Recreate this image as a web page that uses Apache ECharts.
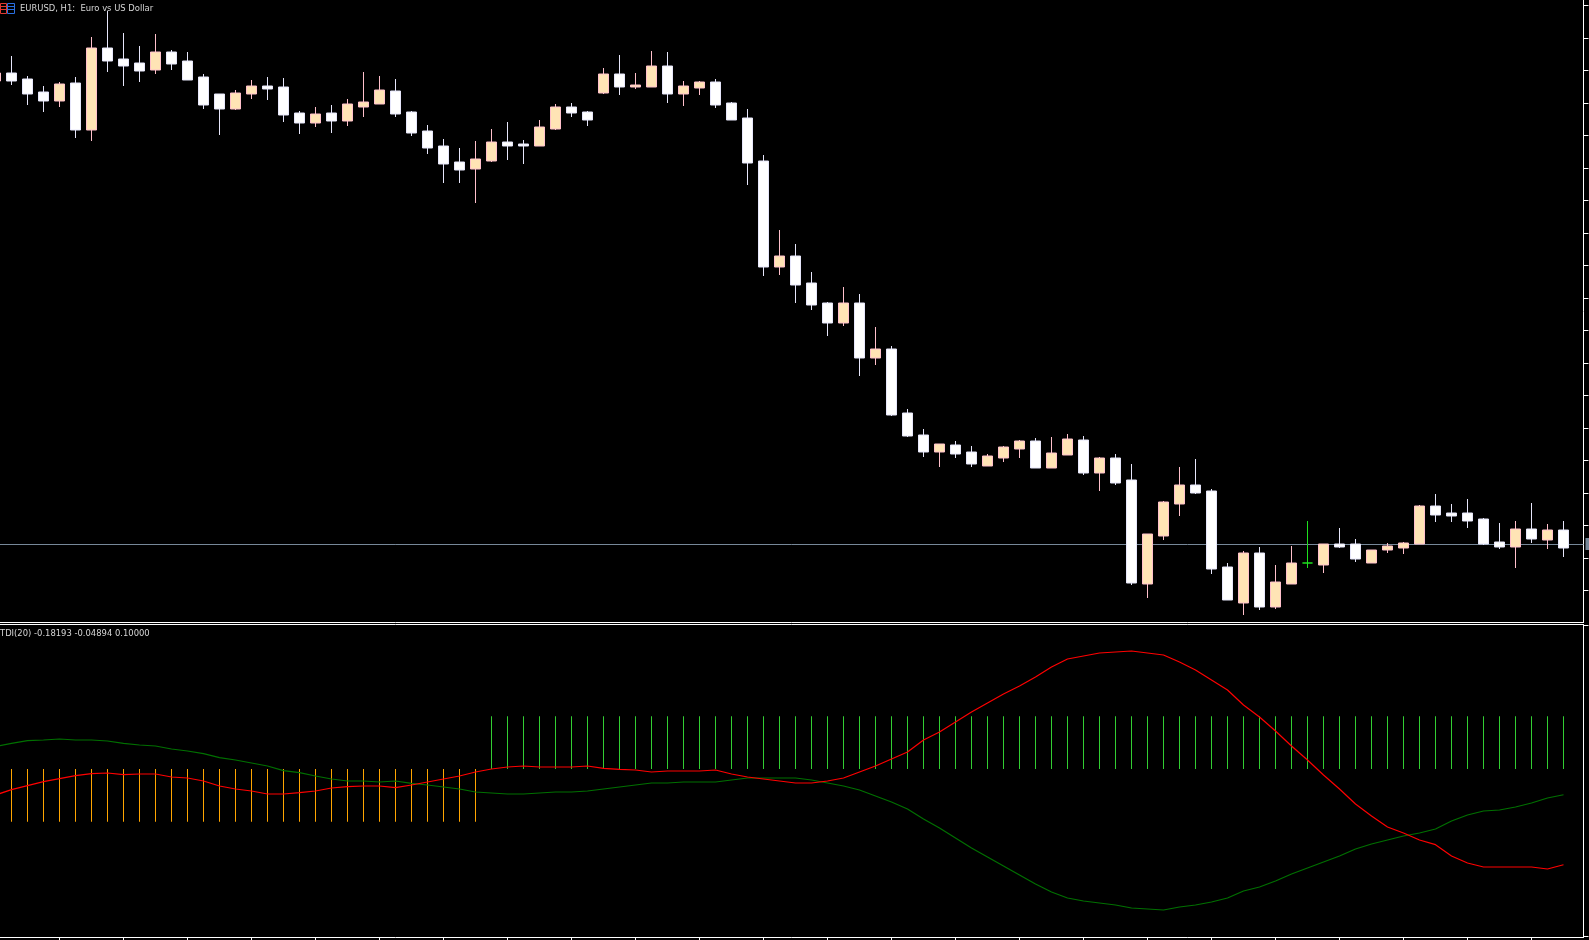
<!DOCTYPE html>
<html>
<head>
<meta charset="utf-8">
<style>html,body{margin:0;padding:0;background:#000;overflow:hidden}#c{width:1589px;height:940px}</style>
<script src="https://cdn.jsdelivr.net/npm/echarts@6/dist/echarts.min.js"></script>
</head>
<body>
<div id="c"></div>
<script>
// Prices are in points above 1.08000 (1 point = 0.00001).
var open = [919,927,921,908,899,917,870,952,941,937,930,948,939,923,906,891,906,914,913,887,877,887,879,893,896,909,888,869,854,838,831,839,858,856,854,871,893,888,907,926,913,913,934,906,912,918,897,882,839,733,744,717,697,677,697,642,651,587,565,548,555,548,534,542,551,559,532,545,560,527,542,520,416,464,496,515,509,433,397,447,393,416,437,435,456,456,437,450,452,456,494,487,487,481,458,453,471,460,470];
var close = [927,919,906,899,916,870,952,939,934,929,948,936,920,895,891,907,914,911,885,877,886,879,896,898,910,886,867,852,836,830,841,858,854,854,873,893,887,880,926,913,915,934,906,914,918,895,880,837,733,744,715,695,677,697,642,651,585,564,548,556,546,536,544,553,559,532,547,561,527,542,517,417,466,498,515,507,431,400,447,393,418,437,437,456,453,441,450,454,457,494,485,484,479,456,453,471,461,470,452];
var low = [915,915,895,888,893,862,859,928,914,918,926,930,920,891,865,890,901,900,878,866,873,867,874,883,896,883,864,846,817,817,797,838,840,836,854,870,883,874,906,905,911,913,897,894,905,892,880,815,724,725,697,690,664,674,624,635,584,563,543,533,542,533,534,538,542,532,532,545,525,509,515,415,402,460,484,506,426,400,385,390,391,416,432,427,452,438,437,447,446,456,478,478,472,455,451,432,457,451,443];
var high = [932,944,924,914,918,923,963,989,967,954,966,950,948,926,906,910,920,923,922,889,893,895,901,928,924,921,889,875,861,852,859,871,878,860,880,896,897,889,932,945,927,949,948,919,919,921,898,891,845,770,756,728,698,713,706,673,654,591,571,556,559,554,546,554,560,562,563,566,564,543,546,536,466,499,533,541,511,437,449,453,435,454,479,456,472,461,450,457,458,495,506,496,501,482,477,479,497,476,479];
var dojiIndex = 82;
var bidPrice = 456;
var priceTicks = [994.5,962,929.5,897,864.5,832,799.5,767,734.5,702,669.5,637,604.5,572,539.5,507,474.5,442,409.5];
var timeTicks = [4,8,12,16,20,24,28,32,36,40,44,48,52,56,60,64,68,72,76,80,84,88,92,96];
var tdiTicks = [0.27265,-0.31825];
var tdiRed = [-0.0494,-0.0393,-0.0317,-0.0241,-0.0184,-0.0127,-0.0089,-0.0076,-0.0108,-0.0095,-0.0095,-0.0152,-0.0171,-0.0228,-0.0323,-0.0380,-0.0418,-0.0475,-0.0475,-0.0450,-0.0418,-0.0361,-0.0336,-0.0323,-0.0323,-0.0355,-0.0304,-0.0247,-0.0190,-0.0133,-0.0057,0,0.0038,0.0057,0.0038,0.0038,0.0038,0.0057,0.0013,-0.0006,-0.0019,-0.0057,-0.0038,-0.0038,-0.0038,-0.0019,-0.0095,-0.0152,-0.0190,-0.0228,-0.0266,-0.0266,-0.0228,-0.0171,-0.0057,0.0057,0.0190,0.0323,0.0551,0.0703,0.0893,0.1083,0.1254,0.1425,0.1577,0.1748,0.1938,0.2090,0.2147,0.2204,0.2223,0.2242,0.2204,0.2166,0.2033,0.1881,0.1691,0.1501,0.1216,0.0988,0.0722,0.0437,0.0171,-0.0114,-0.0380,-0.0665,-0.0893,-0.1102,-0.1216,-0.1349,-0.1438,-0.1653,-0.1786,-0.1862,-0.1862,-0.1862,-0.1862,-0.1900,-0.18193];
var tdiGreen = [0.0428,0.0488,0.0538,0.0551,0.0570,0.0551,0.0551,0.0532,0.0488,0.0456,0.0437,0.0380,0.0342,0.0291,0.0215,0.0171,0.0114,0.0057,-0.0032,-0.0070,-0.0133,-0.0190,-0.0228,-0.0228,-0.0247,-0.0228,-0.0272,-0.0304,-0.0342,-0.0380,-0.0437,-0.0456,-0.0475,-0.0475,-0.0456,-0.0437,-0.0437,-0.0418,-0.0380,-0.0342,-0.0304,-0.0266,-0.0266,-0.0247,-0.0247,-0.0247,-0.0209,-0.0171,-0.0171,-0.0171,-0.0171,-0.0209,-0.0266,-0.0323,-0.0399,-0.0513,-0.0627,-0.0760,-0.0950,-0.1121,-0.1311,-0.1501,-0.1672,-0.1843,-0.2014,-0.2185,-0.2337,-0.2451,-0.2508,-0.2546,-0.2584,-0.2641,-0.2660,-0.2679,-0.2622,-0.2584,-0.2527,-0.2451,-0.2318,-0.2242,-0.2128,-0.1995,-0.1881,-0.1767,-0.1653,-0.1520,-0.1425,-0.1349,-0.1273,-0.1216,-0.1140,-0.0988,-0.0874,-0.0798,-0.0779,-0.0722,-0.0646,-0.0551,-0.04894];
var tdiSignal = [-0.1,-0.1,-0.1,-0.1,-0.1,-0.1,-0.1,-0.1,-0.1,-0.1,-0.1,-0.1,-0.1,-0.1,-0.1,-0.1,-0.1,-0.1,-0.1,-0.1,-0.1,-0.1,-0.1,-0.1,-0.1,-0.1,-0.1,-0.1,-0.1,-0.1,-0.1,0.1,0.1,0.1,0.1,0.1,0.1,0.1,0.1,0.1,0.1,0.1,0.1,0.1,0.1,0.1,0.1,0.1,0.1,0.1,0.1,0.1,0.1,0.1,0.1,0.1,0.1,0.1,0.1,0.1,0.1,0.1,0.1,0.1,0.1,0.1,0.1,0.1,0.1,0.1,0.1,0.1,0.1,0.1,0.1,0.1,0.1,0.1,0.1,0.1,0.1,0.1,0.1,0.1,0.1,0.1,0.1,0.1,0.1,0.1,0.1,0.1,0.1,0.1,0.1,0.1,0.1,0.1,0.1];
var symbolTitle = 'EURUSD, H1:  Euro vs US Dollar';
var indicatorTitle = 'TDI(20) -0.18193 -0.04894 0.10000';

var WHITE = '#ffffff';
var candleData = open.map(function (o, i) {
  var item = { value: [i, o, close[i], low[i], high[i]] };
  if (i === dojiIndex) item.itemStyle = { color: '#1EE01E', color0: '#1EE01E', borderColor: '#1EE01E', borderColor0: '#1EE01E', borderColorDoji: '#1EE01E' };
  return item;
});
var xy = function (arr) { return arr.map(function (v, i) { return [i, v]; }); };
var xStart = 0.28125, xEnd = 99.25;
var titleFont = { color: '#d6d6d6', fontSize: 9.35, fontFamily: '"DejaVu Sans Condensed", "DejaVu Sans"', fontWeight: 'normal' };
var bareAxis = { show: true, axisLine: { show: true, onZero: false, lineStyle: { color: WHITE, width: 1 } }, axisTick: { show: false }, axisLabel: { show: false }, splitLine: { show: false } };
function ext(o) { return Object.assign({}, bareAxis, o); }

var chart = echarts.init(document.getElementById('c'), null, { renderer: 'canvas' });
chart.setOption({
  animation: false,
  backgroundColor: '#000',
  title: [
    { text: symbolTitle, left: 20, top: 4, padding: 0, textStyle: titleFont },
    { text: indicatorTitle, left: 0, top: 629, padding: 0, textStyle: titleFont }
  ],
  graphic: [{
    type: 'group', x: 0, y: 3, silent: true,
    children: [
      { type: 'rect', shape: { x: 0.5, y: 0.5, width: 6, height: 10 }, style: { fill: 'none', stroke: '#e03a30', lineWidth: 1 } },
      { type: 'rect', shape: { x: 7.5, y: 0.5, width: 7, height: 10 }, style: { fill: 'none', stroke: '#2a6fe0', lineWidth: 1 } },
      { type: 'line', shape: { x1: 1, y1: 3.5, x2: 6, y2: 3.5 }, style: { stroke: '#e03a30' } },
      { type: 'line', shape: { x1: 1, y1: 6.5, x2: 6, y2: 6.5 }, style: { stroke: '#e03a30' } },
      { type: 'line', shape: { x1: 8, y1: 3.5, x2: 14, y2: 3.5 }, style: { stroke: '#2a6fe0' } },
      { type: 'line', shape: { x1: 8, y1: 6.5, x2: 14, y2: 6.5 }, style: { stroke: '#2a6fe0' } }
    ]
  }],
  grid: [
    { left: 0, top: 0, width: 1583.5, height: 622.5 },
    { left: 0, top: 624.5, width: 1583.5, height: 313 }
  ],
  xAxis: [
    ext({ type: 'value', gridIndex: 0, min: xStart, max: xEnd, position: 'bottom' }),
    ext({ type: 'value', gridIndex: 1, min: xStart, max: xEnd, position: 'bottom',
      axisTick: { show: true, length: 3, inside: false, customValues: timeTicks, lineStyle: { color: WHITE, width: 1 } } }),
    ext({ type: 'value', gridIndex: 1, min: xStart, max: xEnd, position: 'top' })
  ],
  yAxis: [
    ext({ type: 'value', gridIndex: 0, min: 377.5, max: 1000, position: 'right', scale: true,
      axisTick: { show: true, length: 5, customValues: priceTicks, lineStyle: { color: WHITE, width: 1 } } }),
    ext({ type: 'value', gridIndex: 1, min: -0.32015, max: 0.27455, position: 'right', scale: true,
      axisTick: { show: true, length: 5, customValues: tdiTicks, lineStyle: { color: WHITE, width: 1 } } })
  ],
  series: [
    {
      type: 'candlestick', name: 'EURUSD', xAxisIndex: 0, yAxisIndex: 0,
      data: candleData, barWidth: 10, clip: false,
      itemStyle: { color: '#FFE4B5', color0: '#FFFFFF', borderColor: '#FFC0CB', borderColor0: '#E6E6FA', borderWidth: 1 },
      markLine: {
        silent: true, symbol: 'none', z: 1, animation: false,
        lineStyle: { color: '#778899', width: 1, type: 'solid' },
        label: { show: true, position: 'end', distance: 2, formatter: '1.08456', color: '#000', fontSize: 10, backgroundColor: '#778899', padding: [1, 6, 1, 6] },
        data: [{ yAxis: bidPrice }]
      }
    },
    {
      type: 'bar', name: 'signal', xAxisIndex: 1, yAxisIndex: 1, barWidth: 1, z: 1,
      data: xy(tdiSignal).map(function (p) {
        return { value: p, itemStyle: { color: p[1] < 0 ? '#FFA500' : '#32CD32' } };
      })
    },
    { type: 'line', name: 'TDI', xAxisIndex: 1, yAxisIndex: 1, data: xy(tdiRed), showSymbol: false, symbol: 'none', smooth: false, lineStyle: { color: '#FF0000', width: 1.2 }, z: 3 },
    { type: 'line', name: 'Signal', xAxisIndex: 1, yAxisIndex: 1, data: xy(tdiGreen), showSymbol: false, symbol: 'none', smooth: false, lineStyle: { color: '#007000', width: 1.2 }, z: 2 }
  ]
});
</script>
</body>
</html>
